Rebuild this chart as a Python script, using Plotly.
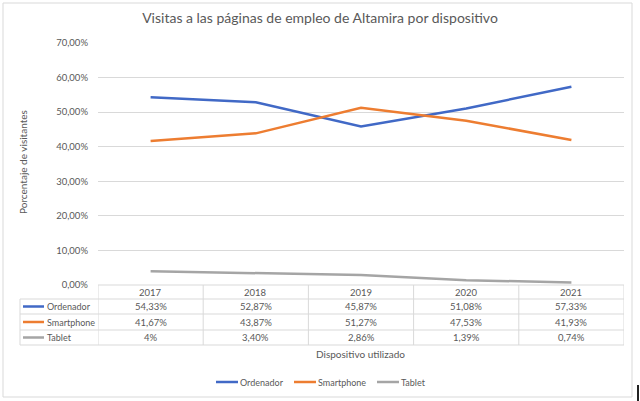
import plotly.graph_objects as go

years = ["2017", "2018", "2019", "2020", "2021"]
ordenador = [54.33, 52.87, 45.87, 51.08, 57.33]
smartphone = [41.67, 43.87, 51.27, 47.53, 41.93]
tablet = [4.0, 3.40, 2.86, 1.39, 0.74]
ordenador_txt = ["54,33%", "52,87%", "45,87%", "51,08%", "57,33%"]
smartphone_txt = ["41,67%", "43,87%", "51,27%", "47,53%", "41,93%"]
tablet_txt = ["4%", "3,40%", "2,86%", "1,39%", "0,74%"]

series = [
    ("Ordenador", ordenador, ordenador_txt, "#4169C6"),
    ("Smartphone", smartphone, smartphone_txt, "#ED7D31"),
    ("Tablet", tablet, tablet_txt, "#A5A5A5"),
]

W, H = 640, 401
L, R, T, B = 98, 624, 43, 285
FONT = "Lato"
GREY = "#595959"
LINE = "#D9D9D9"


def px(p):
    return (p - L) / (R - L)


def py(p):
    return (B - p) / (B - T)


def txt_ann(x, y, text, size, xref="paper", xanchor="center", angle=0):
    return dict(x=x, y=y, xref=xref, yref="paper", text=text, showarrow=False,
                xanchor=xanchor, yanchor="middle", textangle=angle,
                font=dict(size=size, color=GREY, family=FONT))


fig = go.Figure()
for name, vals, txt, col in series:
    fig.add_trace(go.Scatter(x=years, y=vals, name=name, mode="lines",
                             line=dict(color=col, width=2.5), showlegend=False))

shapes = []
ann = []

# chart border
shapes.append(dict(type="rect", xref="paper", yref="paper", x0=px(3), x1=px(632),
                   y0=py(397), y1=py(3), line=dict(color=LINE, width=1)))
# stray mark at the right bottom
shapes.append(dict(type="rect", xref="paper", yref="paper", x0=px(637), x1=px(639),
                   y0=py(401), y1=py(385), line=dict(width=0), fillcolor="#222222"))

# data table
rows_y = [285, 299, 314, 330, 345]
shapes.append(dict(type="line", xref="paper", yref="paper", x0=0, x1=1, y0=py(285), y1=py(285),
                   line=dict(color=LINE, width=1)))
for yy in rows_y[1:]:
    shapes.append(dict(type="line", xref="paper", yref="paper", x0=px(20), x1=1, y0=py(yy), y1=py(yy),
                       line=dict(color=LINE, width=1)))
shapes.append(dict(type="line", xref="paper", yref="paper", x0=px(20), x1=px(20), y0=py(299), y1=py(345),
                   line=dict(color=LINE, width=1)))
for i in range(len(years) + 1):
    shapes.append(dict(type="line", xref="x", yref="paper", x0=i - 0.5, x1=i - 0.5, y0=py(285), y1=py(345),
                       line=dict(color=LINE, width=1)))

for i, yr in enumerate(years):
    ann.append(txt_ann(i, py(292.5), yr, 9.5, xref="x"))

for r, (name, vals, txt, col) in enumerate(series):
    yc = (rows_y[r + 1] + rows_y[r + 2]) / 2
    shapes.append(dict(type="line", xref="paper", yref="paper", x0=px(23), x1=px(44), y0=py(yc), y1=py(yc),
                       line=dict(color=col, width=2.5)))
    ann.append(txt_ann(px(45), py(yc), name, 9, xanchor="left"))
    for i, t in enumerate(txt):
        ann.append(txt_ann(i, py(yc), t, 9.5, xref="x"))

# axis titles
ann.append(txt_ann(px(360), py(354), "Dispositivo utilizado", 10))
ann.append(txt_ann(px(23), py(162), "Porcentaje de visitantes", 10, angle=-90))

# legend
leg_x = [216, 294, 377]
for (name, vals, txt, col), lx in zip(series, leg_x):
    shapes.append(dict(type="line", xref="paper", yref="paper", x0=px(lx), x1=px(lx + 22),
                       y0=py(382), y1=py(382), line=dict(color=col, width=2.5)))
    ann.append(txt_ann(px(lx + 22), py(382), name, 9, xanchor="left"))

fig.update_layout(
    width=W, height=H,
    margin=dict(l=L, r=W - R, t=T, b=H - B, autoexpand=False),
    paper_bgcolor="white", plot_bgcolor="white",
    separators=",.",
    title=dict(text="Visitas a las páginas de empleo de Altamira por dispositivo",
               x=320 / W, xanchor="center", y=1 - 18 / H, yanchor="middle",
               font=dict(size=14, color=GREY, family=FONT)),
    xaxis=dict(type="category", range=[-0.5, 4.5], showticklabels=False, showgrid=False,
               zeroline=False, showline=False, fixedrange=True, automargin=False),
    yaxis=dict(range=[0, 70], dtick=10, tickformat=".2f", ticksuffix="%", showgrid=True,
               gridcolor=LINE, gridwidth=1, zeroline=False, showline=False, automargin=False,
               tickfont=dict(size=9.5, color=GREY, family=FONT), ticklabelstandoff=9),
    shapes=shapes, annotations=ann,
)

# page body has a default 8px margin; drop it so the chart sits at the window corner
fig.write_html("out.html", config={"displayModeBar": False},
               post_script="document.body.style.margin='0';")
